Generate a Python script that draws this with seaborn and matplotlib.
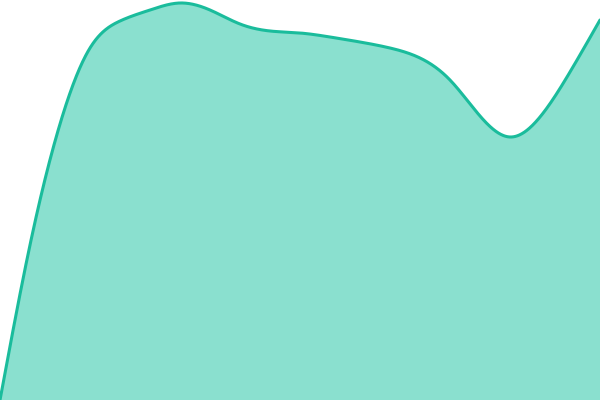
import numpy as np
import pandas as pd
import matplotlib
matplotlib.use("Agg")
import matplotlib.pyplot as plt
import seaborn as sns

# heights every 30 px (height from the bottom)
x_pos = [0, 30, 60, 90, 120, 150, 180, 210, 240, 270, 300,
         330, 360, 390, 420, 450, 480, 510, 540, 570, 600]
values = [0, 155, 276, 352, 379, 390, 397, 390, 376, 369, 367,
          363, 358, 352, 342, 320, 284, 263, 283, 328, 380]

line_color = "#1abc9c"
fill_color = "#8ae0cf"


def smooth(x, y, n=1200):
    # natural cubic spline through the read points
    x = np.asarray(x, float)
    y = np.asarray(y, float)
    k = len(x)
    h = np.diff(x)
    A = np.zeros((k, k))
    b = np.zeros(k)
    A[0, 0] = A[-1, -1] = 1
    for i in range(1, k - 1):
        A[i, i - 1] = h[i - 1]
        A[i, i] = 2 * (h[i - 1] + h[i])
        A[i, i + 1] = h[i]
        b[i] = 6 * ((y[i + 1] - y[i]) / h[i] - (y[i] - y[i - 1]) / h[i - 1])
    M = np.linalg.solve(A, b)
    xs = np.linspace(x[0], x[-1], n)
    idx = np.clip(np.searchsorted(x, xs) - 1, 0, k - 2)
    a = x[idx + 1] - xs
    c = xs - x[idx]
    hi = h[idx]
    ys = (M[idx] * a**3 / (6 * hi) + M[idx + 1] * c**3 / (6 * hi)
          + (y[idx] / hi - M[idx] * hi / 6) * a
          + (y[idx + 1] / hi - M[idx + 1] * hi / 6) * c)
    return xs, ys


xs, ys = smooth(x_pos, values)
curve = pd.DataFrame({"x": xs, "y": ys})

sns.set_style("white")
fig = plt.figure(figsize=(6, 4), dpi=100)
ax = fig.add_axes([0, 0, 1, 1])

ax.fill_between(curve["x"], curve["y"], 0, color=fill_color, linewidth=0)
sns.lineplot(data=curve, x="x", y="y", ax=ax, color=line_color, linewidth=2.2)

ax.set_xlim(0, 600)
ax.set_ylim(0, 400)
ax.axis("off")

fig.savefig("out.png", dpi=100)
